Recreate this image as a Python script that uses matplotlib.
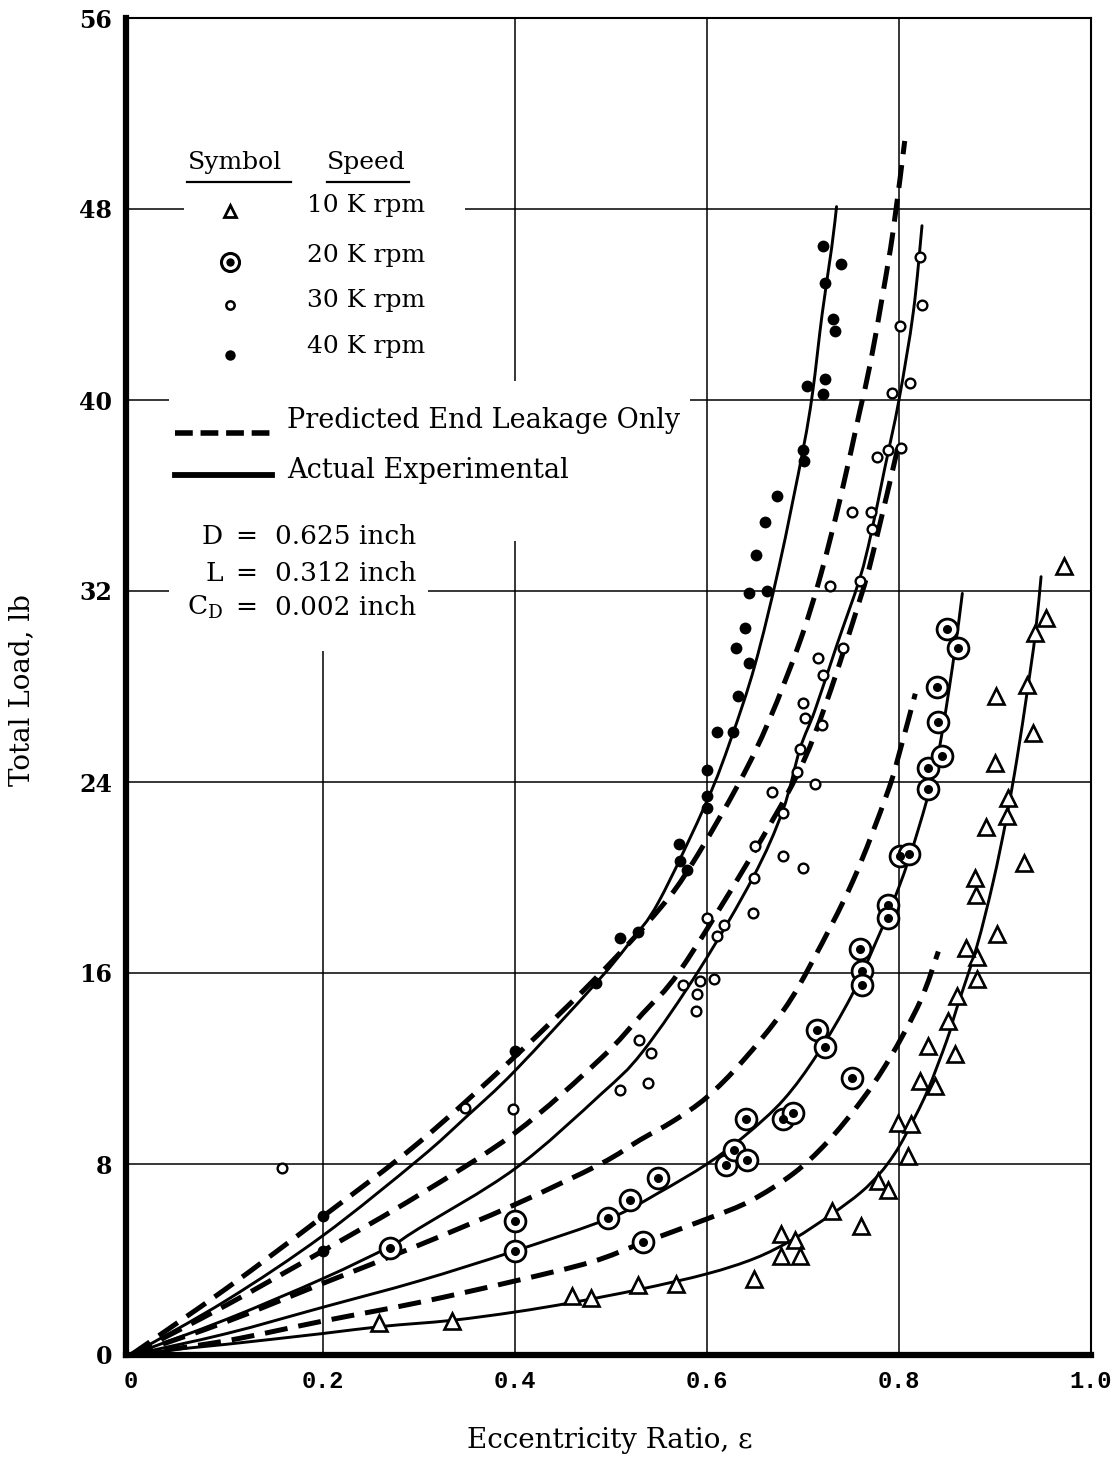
import matplotlib
matplotlib.use("Agg")
import matplotlib.pyplot as plt
from matplotlib.patches import Rectangle, PathPatch
from matplotlib.path import Path

# ---------------- data ----------------
ecc_10k = [0.259, 0.334, 0.460, 0.479, 0.528, 0.568, 0.649, 0.677, 0.692, 0.677, 0.697,
           0.730, 0.760, 0.778, 0.789, 0.809, 0.799, 0.813, 0.822, 0.838, 0.830, 0.858,
           0.851, 0.860, 0.881, 0.881, 0.870, 0.902, 0.880, 0.879, 0.930, 0.891, 0.912,
           0.914, 0.900, 0.940, 0.901, 0.933, 0.942, 0.953, 0.972]
load_10k = [1.34, 1.42, 2.47, 2.39, 2.93, 2.97, 3.18, 5.05, 4.80, 4.15, 4.15,
            6.03, 5.40, 7.29, 6.91, 8.33, 9.72, 9.68, 11.48, 11.27, 12.94, 12.60,
            13.99, 15.04, 15.75, 16.67, 17.05, 17.63, 19.27, 19.98, 20.60, 22.10, 22.58,
            23.33, 24.80, 26.05, 27.60, 28.06, 30.24, 30.87, 33.05]

ecc_20k = [0.27, 0.40, 0.40, 0.497, 0.52, 0.533, 0.549, 0.62, 0.628, 0.642, 0.641, 0.679,
           0.69, 0.715, 0.723, 0.751, 0.759, 0.761, 0.761, 0.789, 0.789, 0.801, 0.81,
           0.83, 0.83, 0.845, 0.841, 0.84, 0.85, 0.861]
load_20k = [4.5, 5.6, 4.36, 5.74, 6.5, 4.75, 7.4, 7.95, 8.6, 8.15, 9.9, 9.9,
            10.15, 13.6, 12.9, 11.6, 17.0, 16.1, 15.5, 18.85, 18.3, 20.9, 21.0,
            24.6, 23.7, 25.1, 26.5, 28.0, 30.4, 29.6]

ecc_30k = [0.157, 0.348, 0.398, 0.509, 0.529, 0.539, 0.542, 0.575, 0.589, 0.59, 0.593,
           0.607, 0.6, 0.61, 0.618, 0.648, 0.649, 0.65, 0.668, 0.679, 0.679, 0.7,
           0.694, 0.697, 0.7125, 0.7, 0.702, 0.72, 0.716, 0.721, 0.742, 0.728, 0.759,
           0.751, 0.771, 0.772, 0.777, 0.789, 0.802, 0.793, 0.811, 0.801, 0.824, 0.822]
load_30k = [7.83, 10.35, 10.3, 11.1, 13.2, 11.4, 12.65, 15.5, 14.4, 15.1, 15.67,
            15.75, 18.3, 17.55, 18.0, 18.5, 20.0, 21.3, 23.6, 22.7, 20.9, 20.4,
            24.4, 25.4, 23.9, 27.3, 26.7, 26.4, 29.2, 28.5, 29.6, 32.2, 32.4,
            35.3, 35.3, 34.6, 37.6, 37.9, 38.0, 40.3, 40.7, 43.1, 44.0, 46.0]

ecc_40k = [0.2, 0.2, 0.4, 0.485, 0.509, 0.528, 0.571, 0.572, 0.579, 0.6, 0.6, 0.6,
           0.611, 0.627, 0.632, 0.644, 0.63, 0.64, 0.644, 0.663, 0.651, 0.66, 0.673,
           0.7, 0.701, 0.704, 0.721, 0.723, 0.731, 0.733, 0.723, 0.74, 0.721]
load_40k = [5.82, 4.36, 12.73, 15.6, 17.47, 17.7, 21.4, 20.7, 20.3, 24.5, 23.4, 22.9,
            26.1, 26.1, 27.6, 29.0, 29.6, 30.45, 31.9, 32.0, 33.5, 34.9, 36.0,
            37.9, 37.45, 40.6, 40.25, 40.9, 43.4, 42.9, 44.9, 45.7, 46.45]

# Actual experimental curves (solid)
exp_10k_x = [0, 0.05, 0.1, 0.2, 0.2625, 0.334, 0.4, 0.46, 0.53, 0.6, 0.65, 0.69, 0.73,
             0.76, 0.78, 0.795, 0.808, 0.829, 0.85, 0.86, 0.881, 0.898, 0.912, 0.923,
             0.934, 0.942, 0.948]
exp_10k_y = [0, 0.25, 0.45, 0.9, 1.2, 1.45, 1.8, 2.2, 2.75, 3.4, 4.05, 4.85, 5.9,
             6.8, 7.6, 8.4, 9.3, 11.0, 13.2, 14.5, 17.1, 19.8, 22.5, 25.0,
             27.9, 30.2, 32.6]
exp_20k_x = [0, 0.1, 0.2, 0.3, 0.4, 0.5, 0.55, 0.6, 0.64, 0.68, 0.715, 0.75, 0.775,
             0.8, 0.82, 0.84, 0.856, 0.866]
exp_20k_y = [0, 0.9, 2.0, 3.1, 4.36, 5.75, 6.8, 8.0, 9.2, 10.7, 12.6, 15.0, 17.2,
             19.6, 22.0, 25.0, 28.9, 31.9]
exp_30k_x = [0, 0.1, 0.2, 0.27, 0.3, 0.4, 0.489, 0.533, 0.593, 0.648, 0.679, 0.697,
             0.7125, 0.735, 0.759, 0.771, 0.785, 0.8, 0.815, 0.824]
exp_30k_y = [0, 1.5, 3.2, 4.55, 5.3, 7.8, 10.9, 12.7, 16.2, 20.0, 22.8, 25.4,
             27.0, 29.7, 32.5, 34.4, 37.1, 40.0, 43.7, 47.3]
exp_40k_x = [0, 0.1, 0.2, 0.3, 0.35, 0.4, 0.485, 0.52, 0.55, 0.6, 0.625, 0.65, 0.675,
             0.7, 0.71, 0.72, 0.73, 0.735]
exp_40k_y = [0, 2.3, 5.0, 8.2, 10.0, 11.9, 15.6, 17.3, 19.0, 23.2, 25.8, 28.9, 33.0,
             37.9, 40.3, 43.6, 46.4, 48.1]

# Predicted end leakage only curves (dashed)
pred_10k_x = [0, 0.1, 0.2, 0.3, 0.4, 0.48, 0.533, 0.6, 0.645, 0.69, 0.725, 0.76, 0.79,
              0.822, 0.841]
pred_10k_y = [0, 0.6, 1.42, 2.2, 3.1, 3.9, 4.7, 5.7, 6.45, 7.6, 8.9, 10.6, 12.4,
              14.8, 16.9]
pred_20k_x = [0, 0.1, 0.2, 0.3, 0.4, 0.489, 0.53, 0.565, 0.6, 0.637, 0.68, 0.71, 0.752,
              0.7875, 0.801, 0.817]
pred_20k_y = [0, 1.4, 3.0, 4.6, 6.3, 8.0, 9.0, 9.8, 10.8, 12.3, 14.45, 16.5, 19.85,
              23.5, 25.3, 27.7]
pred_30k_x = [0, 0.1, 0.2, 0.3, 0.4, 0.489, 0.533, 0.572, 0.642, 0.694, 0.725, 0.759,
              0.773, 0.8]
pred_30k_y = [0, 2.1, 4.36, 6.7, 9.3, 12.4, 14.3, 16.1, 20.6, 24.3, 27.4, 31.6,
              33.6, 38.2]
pred_40k_x = [0, 0.1, 0.2, 0.3, 0.4, 0.487, 0.551, 0.585, 0.634, 0.665, 0.697, 0.718,
              0.739, 0.759, 0.77, 0.783, 0.794, 0.806]
pred_40k_y = [0, 2.8, 5.8, 8.9, 12.5, 15.9, 18.7, 20.6, 24.0, 26.6, 29.9, 32.6,
              35.9, 39.5, 41.5, 44.4, 47.1, 50.85]

x_ticks = [0, 0.2, 0.4, 0.6, 0.8, 1.0]
x_tick_labels = ["0", "0.2", "0.4", "0.6", "0.8", "1.0"]
y_ticks = [0, 8, 16, 24, 32, 40, 48, 56]
y_tick_labels = ["0", "8", "16", "24", "32", "40", "48", "56"]
speed_labels = ["10 K rpm", "20 K rpm", "30 K rpm", "40 K rpm"]
line_labels = ["Predicted End Leakage Only", "Actual Experimental"]
param_names = ["D", "L", "C$_{\\mathregular{D}}$"]
param_values = ["0.625 inch", "0.312 inch", "0.002 inch"]


def smooth_path(xs, ys):
    """Smooth Bezier path through the read points (Catmull-Rom control points)."""
    pts = list(zip(xs, ys))
    n = len(pts)
    verts = [pts[0]]
    codes = [Path.MOVETO]
    for i in range(n - 1):
        p0 = pts[i - 1] if i > 0 else pts[i]
        p1 = pts[i]
        p2 = pts[i + 1]
        p3 = pts[i + 2] if i + 2 < n else pts[i + 1]
        c1 = (p1[0] + (p2[0] - p0[0]) / 6.0, p1[1] + (p2[1] - p0[1]) / 6.0)
        c2 = (p2[0] - (p3[0] - p1[0]) / 6.0, p2[1] - (p3[1] - p1[1]) / 6.0)
        verts += [c1, c2, p2]
        codes += [Path.CURVE4] * 3
    return Path(verts, codes)


# ---------------- figure ----------------
W, H = 1114, 1469
fig = plt.figure(figsize=(W / 100, H / 100), dpi=100)
fig.patch.set_facecolor("white")
left_px, right_px, top_px, bot_px = 126, 1091, 18, 1355
ax = fig.add_axes([left_px / W, 1 - bot_px / H, (right_px - left_px) / W, (bot_px - top_px) / H])
ax.set_xlim(-0.005, 1.0)
ax.set_ylim(0, 56)

serif = ["DejaVu Serif"]

# spines
for s in ["top", "right"]:
    ax.spines[s].set_linewidth(1.5)
for s in ["left", "bottom"]:
    ax.spines[s].set_linewidth(4.5)
for s in ax.spines.values():
    s.set_zorder(6)

# ticks
ax.set_xticks(x_ticks)
ax.set_xticklabels(x_tick_labels, family="Liberation Mono", fontweight="bold", fontsize=17)
ax.set_yticks(y_ticks)
ax.set_yticklabels(y_tick_labels, family=serif, fontweight="bold", fontsize=17)
ax.tick_params(axis="both", length=0)
ax.tick_params(axis="x", pad=11)
ax.tick_params(axis="y", pad=10)

# grid
for v in x_ticks[1:-1]:
    ax.axvline(v, color="black", lw=1.1, zorder=1)
for h in y_ticks[1:-1]:
    ax.axhline(h, color="black", lw=1.1, zorder=1)

# white legend blocks that hide the grid
for (x0, y0, x1, y1) in [(0.055, 33.0, 0.348, 56.0), (0.04, 34.1, 0.582, 40.8),
                         (0.04, 29.5, 0.31, 33.0)]:
    ax.add_patch(Rectangle((x0, y0), x1 - x0, y1 - y0, facecolor="white",
                           edgecolor="none", zorder=2))

# curves
for xs, ys in [(exp_10k_x, exp_10k_y), (exp_20k_x, exp_20k_y),
               (exp_30k_x, exp_30k_y), (exp_40k_x, exp_40k_y)]:
    pp = PathPatch(smooth_path(xs, ys), fill=False, edgecolor="black", lw=2.1,
                   zorder=3, transform=ax.transData)
    pp.set_capstyle("round")
    ax.add_patch(pp)

for xs, ys in [(pred_10k_x, pred_10k_y), (pred_20k_x, pred_20k_y),
               (pred_30k_x, pred_30k_y), (pred_40k_x, pred_40k_y)]:
    pp = PathPatch(smooth_path(xs, ys), fill=False, edgecolor="black", lw=3.6,
                   zorder=3, linestyle=(0, (4.6, 2.2)), transform=ax.transData)
    pp.set_capstyle("butt")
    ax.add_patch(pp)

# markers
tri_kw = dict(ls="none", marker="^", ms=11, mfc="white", mec="black", mew=1.9, zorder=4)
ring_kw = dict(ls="none", marker="o", ms=15, mfc="white", mec="black", mew=2.0, zorder=4)
dotin_kw = dict(ls="none", marker="o", ms=6.5, mfc="black", mec="black", mew=0, zorder=5)
small_kw = dict(ls="none", marker="o", ms=7, mfc="white", mec="black", mew=1.7, zorder=4)
fill_kw = dict(ls="none", marker="o", ms=8.5, mfc="black", mec="black", mew=0, zorder=4)

ax.plot(ecc_10k, load_10k, **tri_kw)
ax.plot(ecc_20k, load_20k, **ring_kw)
ax.plot(ecc_20k, load_20k, **dotin_kw)
ax.plot(ecc_30k, load_30k, **small_kw)
ax.plot(ecc_40k, load_40k, **fill_kw)

# ---------------- legend block ----------------
tk = dict(family=serif, fontsize=18, color="black", zorder=7, va="center")
ax.text(0.059, 49.95, "Symbol", ha="left", **tk)
ax.text(0.204, 49.95, "Speed", ha="left", **tk)
ax.plot([0.059, 0.167], [49.15, 49.15], color="black", lw=1.6, zorder=7)
ax.plot([0.204, 0.290], [49.15, 49.15], color="black", lw=1.6, zorder=7)

sym_x = 0.103
leg_y = [47.9, 45.8, 44.0, 41.9]
txt_y = [48.15, 46.05, 44.15, 42.25]
ax.plot([sym_x], [leg_y[0]], ls="none", marker="^", ms=9, mfc="white", mec="black",
        mew=2.0, zorder=7)
ax.plot([sym_x], [leg_y[1]], ls="none", marker="o", ms=13, mfc="white", mec="black",
        mew=2.2, zorder=7)
ax.plot([sym_x], [leg_y[1]], ls="none", marker="o", ms=6, mfc="black", mec="black",
        mew=0, zorder=8)
ax.plot([sym_x], [leg_y[2]], ls="none", marker="o", ms=6, mfc="white", mec="black",
        mew=1.8, zorder=7)
ax.plot([sym_x], [leg_y[3]], ls="none", marker="o", ms=7.5, mfc="black", mec="black",
        mew=0, zorder=7)
for lab, yy in zip(speed_labels, txt_y):
    ax.text(0.183, yy, lab, ha="left", **tk)

lnd, = ax.plot([0.046, 0.147], [38.6, 38.6], color="black", lw=4.0, zorder=7,
               dash_capstyle="butt")
lnd.set_dashes((3.2, 1.4))
ax.plot([0.046, 0.147], [36.85, 36.85], color="black", lw=4.2, zorder=7)
lk = dict(family=serif, fontsize=19.5, color="black", zorder=7, va="center")
ax.text(0.163, 39.15, line_labels[0], ha="left", **lk)
ax.text(0.163, 37.05, line_labels[1], ha="left", **lk)

pk = dict(family=serif, fontsize=19, color="black", zorder=7, va="center")
param_y = [34.3, 32.75, 31.3]
for nm, val, yy in zip(param_names, param_values, param_y):
    ax.text(0.096, yy, nm, ha="right", **pk)
    ax.text(0.120, yy, "=", ha="center", **pk)
    ax.text(0.150, yy, val, ha="left", **pk)

# axis labels
fig.text(22 / W, 1 - 690 / H, "Total Load, lb", rotation=90, ha="center", va="center",
         family=serif, fontsize=20)
fig.text(610 / W, 1 - 1441 / H, "Eccentricity Ratio, \u03b5", ha="center", va="center",
         family=serif, fontsize=20)

fig.savefig("out.png", dpi=100, facecolor="white")
